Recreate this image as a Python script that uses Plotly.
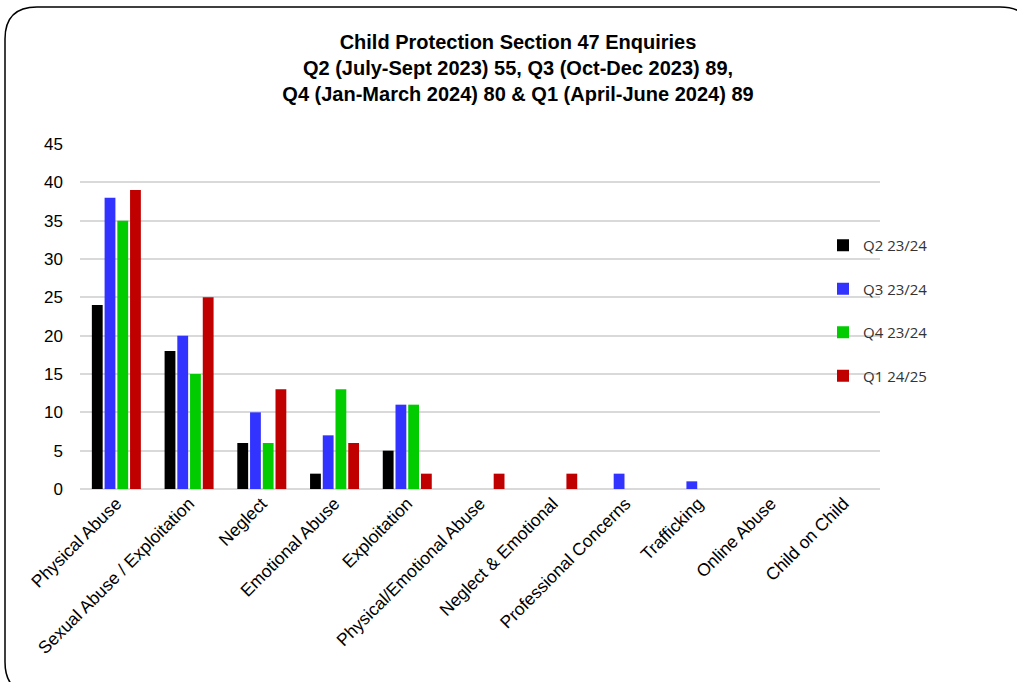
import plotly.graph_objects as go

categories = ["Physical Abuse", "Sexual Abuse / Exploitation", "Neglect", "Emotional Abuse",
              "Exploitation", "Physical/Emotional Abuse", "Neglect & Emotional",
              "Professional Concerns", "Trafficking", "Online Abuse", "Child on Child"]
series_names = ["Q2 23/24", "Q3 23/24", "Q4 23/24", "Q1 24/25"]
q2_2324 = [24, 18, 6, 2, 5, 0, 0, 0, 0, 0, 0]
q3_2324 = [38, 20, 10, 7, 11, 0, 0, 2, 1, 0, 0]
q4_2324 = [35, 15, 6, 13, 11, 0, 0, 0, 0, 0, 0]
q1_2425 = [39, 25, 13, 6, 2, 2, 2, 0, 0, 0, 0]
y_ticks = [0, 5, 10, 15, 20, 25, 30, 35, 40, 45]

colors = ["#000000", "#3333ff", "#00cc00", "#c00000"]
values = [q2_2324, q3_2324, q4_2324, q1_2425]

W, H = 1017, 682
L, R, T, B = 80, 880, 144, 489

font_main = "Liberation Sans, Arial"

fig = go.Figure()
for i, (name, vals) in enumerate(zip(series_names, values)):
    fig.add_trace(go.Bar(
        x=categories, y=vals, name=name, legendgroup=name,
        marker=dict(color=colors[i], line=dict(width=0)),
    ))

def px(x):
    return (x - L) / (R - L)

def py(y):
    return (B - y) / (B - T)

x0, x1, y0, y1 = 5, 1032, 7, 694
r = 32
path = (
    f"M {px(x0)},{py(y0 + r)} "
    f"Q {px(x0)},{py(y0)} {px(x0 + r)},{py(y0)} "
    f"L {px(x1 - r)},{py(y0)} "
    f"Q {px(x1)},{py(y0)} {px(x1)},{py(y0 + r)} "
    f"L {px(x1)},{py(y1 - r)} "
    f"Q {px(x1)},{py(y1)} {px(x1 - r)},{py(y1)} "
    f"L {px(x0 + r)},{py(y1)} "
    f"Q {px(x0)},{py(y1)} {px(x0)},{py(y1 - r)} Z"
)

fig.update_layout(
    width=W, height=H,
    margin=dict(l=L, r=W - R, t=T, b=H - B, autoexpand=False),
    paper_bgcolor="white", plot_bgcolor="white",
    barmode="group", bargap=0.3, bargroupgap=0.15,
    title=dict(
        text="Child Protection Section 47 Enquiries<br>Q2 (July-Sept 2023) 55, Q3 (Oct-Dec 2023) 89,<br>Q4 (Jan-March 2024) 80 & Q1 (April-June 2024) 89",
        x=518 / W, xanchor="center", y=1 - 49 / H, yanchor="top",
        font=dict(family=font_main, size=20, color="#000000", weight="bold"),
    ),
    xaxis=dict(
        tickangle=-45, tickfont=dict(family=font_main, size=17.5, color="#000000"),
        showgrid=False, showline=False, ticks="",
    ),
    yaxis=dict(
        range=[0, 45], tickvals=y_ticks, showgrid=True, gridcolor="#d9d9d9", gridwidth=2,
        zeroline=True, zerolinecolor="#d9d9d9", zerolinewidth=2,
        tickfont=dict(family=font_main, size=17, color="#000000"),
        ticklabelstandoff=16, showline=False,
    ),
    legend=dict(
        x=px(823), y=py(229), xanchor="left", yanchor="top",
        font=dict(family="Open Sans, Noto Sans", size=15, color="#333333"),
        tracegroupgap=21, bgcolor="rgba(0,0,0,0)", itemwidth=30,
    ),
    showlegend=True,
    shapes=[dict(type="path", xref="paper", yref="paper", path=path,
                 line=dict(color="#000000", width=1.5), fillcolor="rgba(0,0,0,0)",
                 layer="below")],
)

fig.write_html("out.html", config={"displayModeBar": False},
               post_script="document.body.style.margin='0';")
